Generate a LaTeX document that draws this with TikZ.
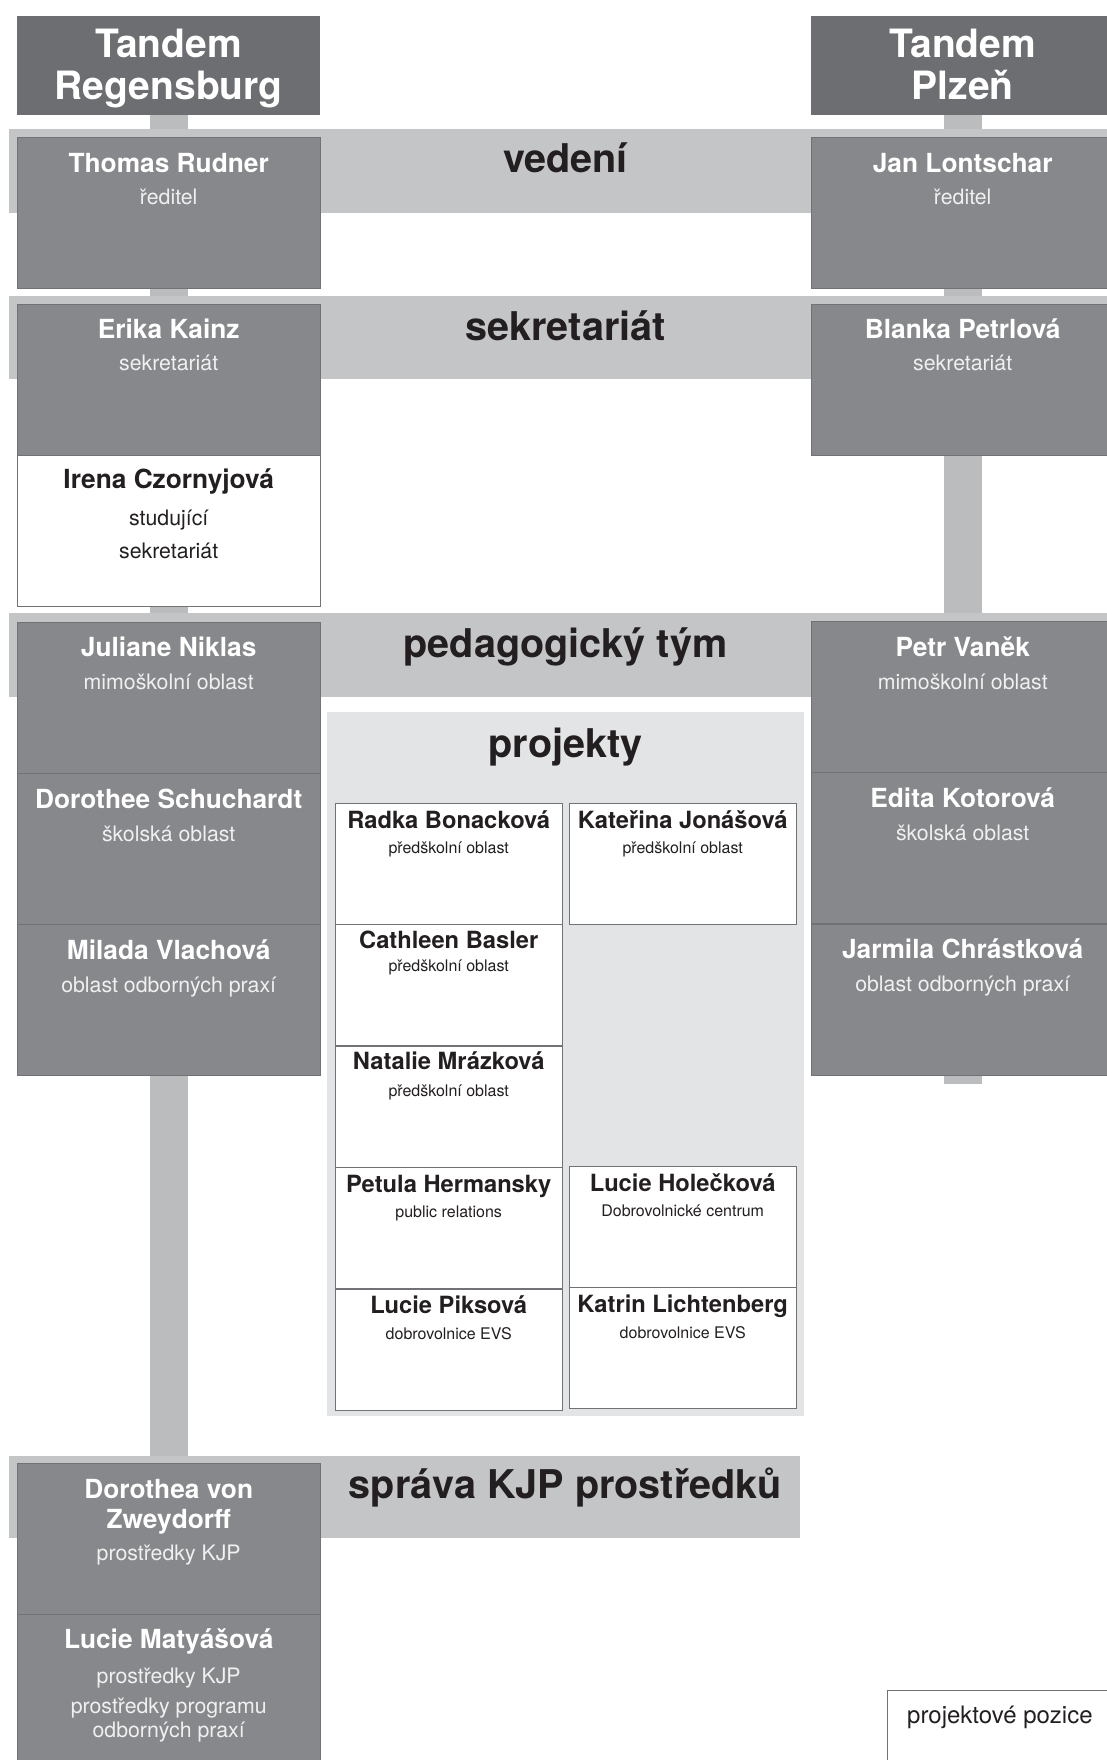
\documentclass[tikz,border=0pt]{standalone}
\usepackage{fontspec}
\setmainfont{TeX Gyre Heros}
\usepackage{tikz}
\usetikzlibrary{positioning,backgrounds}

\definecolor{hdrgray}{HTML}{6D6E71}
\definecolor{boxgray}{HTML}{87888B}
\definecolor{boxline}{HTML}{717275}
\definecolor{bandgray}{HTML}{C4C5C7}
\definecolor{stemgray}{HTML}{BBBCBE}
\definecolor{panelgray}{HTML}{E3E4E5}
\definecolor{inkdark}{HTML}{231F20}

\begin{document}
\begin{tikzpicture}[
    x=1pt, y=-1pt,
    header/.style={rectangle, fill=hdrgray, minimum width=303pt, minimum height=99pt, inner sep=0pt, anchor=north west},
    person/.style={rectangle, draw=boxline, fill=boxgray, minimum width=303pt, minimum height=151pt, inner sep=0pt, anchor=north west},
    trainee/.style={person, fill=white},
    project/.style={rectangle, draw=boxline, fill=white, minimum width=227pt, minimum height=121pt, inner sep=0pt, anchor=north west},
    band/.style={rectangle, fill=bandgray, inner sep=0pt, anchor=north west},
    hdrtext/.style={anchor=base, inner sep=0pt, text=white, font=\fontsize{39}{42}\selectfont\bfseries},
    nm/.style={anchor=base, inner sep=0pt, text=white, font=\fontsize{26.3}{30}\selectfont\bfseries},
    role/.style={anchor=base, inner sep=0pt, text=white!94!black, font=\fontsize{21.3}{25}\selectfont},
    darknm/.style={nm, text=inkdark},
    darkrole/.style={role, text=inkdark},
    pnm/.style={anchor=base, inner sep=0pt, text=inkdark, font=\fontsize{23.7}{27}\selectfont\bfseries},
    prole/.style={anchor=base, inner sep=0pt, text=inkdark, font=\fontsize{16}{19}\selectfont},
    title/.style={anchor=base, inner sep=0pt, text=inkdark, font=\fontsize{39.6}{44}\selectfont\bfseries},
    stem/.style={draw=stemgray, line width=38pt}
]
\useasboundingbox (0,0) rectangle (1106,1760);

% bands
\node[band, minimum width=1110pt, minimum height=84pt] (vedeni) at (9,129) {};
\node[band, minimum width=1110pt, minimum height=83pt] (sekretariat) at (9,296) {};
\node[band, minimum width=1110pt, minimum height=84pt] (pedagog) at (9,613) {};
\node[band, minimum width=791pt, minimum height=82pt] (sprava) at (9,1456) {};

\node[title] (vedenilbl) at (565.5,173) {vedení};
\node[title] (sekretariatlbl) at (565.5,340) {sekretariát};
\node[title] (pedagoglbl) at (565.5,657) {pedagogický tým};
\node[title] (spravalbl) at (565.5,1498) {správa KJP prostředků};

% Regensburg
\node[header, label={[hdrtext, yshift=-42pt]above:Tandem}, label={[hdrtext, yshift=-84pt]above:Regensburg}] (regensburg) at (17,16) {};
\node[person, below=22pt of regensburg, label={[nm, yshift=-35pt]above:Thomas Rudner}, label={[role, yshift=-67pt]above:ředitel}] (rudner) {};
\node[person, below=15pt of rudner, label={[nm, yshift=-35pt]above:Erika Kainz}, label={[role, yshift=-67pt]above:sekretariát}] (kainz) {};
\node[trainee, below=0pt of kainz, label={[darknm, yshift=-33pt]above:Irena Czornyjová}, label={[darkrole, yshift=-70pt]above:studující}, label={[darkrole, yshift=-103pt]above:sekretariát}] (czornyjova) {};
\node[person, below=15pt of czornyjova, label={[nm, yshift=-35pt]above:Juliane Niklas}, label={[role, yshift=-68pt]above:mimoškolní oblast}] (niklas) {};
\node[person, below=0pt of niklas, label={[nm, yshift=-35pt]above:Dorothee Schuchardt}, label={[role, yshift=-68pt]above:školská oblast}] (schuchardt) {};
\node[person, below=0pt of schuchardt, label={[nm, yshift=-35pt]above:Milada Vlachová}, label={[role, yshift=-68pt]above:oblast odborných praxí}] (vlachova) {};
\node[person, label={[nm, yshift=-35pt]above:Dorothea von}, label={[nm, yshift=-65pt]above:Zweydorff}, label={[role, yshift=-97pt]above:prostředky KJP}] (zweydorff) at (17,1463) {};
\node[person, below=0pt of zweydorff, label={[nm, yshift=-34pt]above:Lucie Matyášová}, label={[role, yshift=-69pt]above:prostředky KJP}, label={[role, yshift=-99pt]above:prostředky programu}, label={[role, yshift=-123pt]above:odborných praxí}] (matyasova) {};

% Plzen
\node[header, label={[hdrtext, yshift=-42pt]above:Tandem}, label={[hdrtext, yshift=-84pt]above:Plzeň}] (plzen) at (811,16) {};
\node[person, below=22pt of plzen, label={[nm, yshift=-35pt]above:Jan Lontschar}, label={[role, yshift=-67pt]above:ředitel}] (lontschar) {};
\node[person, below=15pt of lontschar, label={[nm, yshift=-35pt]above:Blanka Petrlová}, label={[role, yshift=-67pt]above:sekretariát}] (petrlova) {};
\node[person, label={[nm, yshift=-35pt]above:Petr Vaněk}, label={[role, yshift=-68pt]above:mimoškolní oblast}] (vanek) at (811,621) {};
\node[person, below=0pt of vanek, label={[nm, yshift=-35pt]above:Edita Kotorová}, label={[role, yshift=-68pt]above:školská oblast}] (kotorova) {};
\node[person, below=0pt of kotorova, label={[nm, yshift=-35pt]above:Jarmila Chrástková}, label={[role, yshift=-68pt]above:oblast odborných praxí}] (chrastkova) {};
\coordinate (plzenend) at ([yshift=-9pt]chrastkova.south);

% projekty
\node[rectangle, fill=panelgray, minimum width=477pt, minimum height=704pt, inner sep=0pt, anchor=north west] (projekty) at (327,712) {};
\node[title] (projektylbl) at (565.5,757) {projekty};

\node[project, label={[pnm, yshift=-25pt]above:Radka Bonacková}, label={[prole, yshift=-50pt]above:předškolní oblast}] (bonackova) at (335,803) {};
\node[project, below=0pt of bonackova, label={[pnm, yshift=-24pt]above:Cathleen Basler}, label={[prole, yshift=-47pt]above:předškolní oblast}] (basler) {};
\node[project, below=0pt of basler, label={[pnm, yshift=-24pt]above:Natalie Mrázková}, label={[prole, yshift=-51pt]above:předškolní oblast}] (mrazkova) {};
\node[project, below=0pt of mrazkova, label={[pnm, yshift=-25pt]above:Petula Hermansky}, label={[prole, yshift=-50pt]above:public relations}] (hermansky) {};
\node[project, below=0pt of hermansky, label={[pnm, yshift=-25pt]above:Lucie Piksová}, label={[prole, yshift=-51pt]above:dobrovolnice EVS}] (piksova) {};

\node[project, label={[pnm, yshift=-25pt]above:Kateřina Jonášová}, label={[prole, yshift=-50pt]above:předškolní oblast}] (jonasova) at (569,803) {};
\node[project, label={[pnm, yshift=-25pt]above:Lucie Holečková}, label={[prole, yshift=-50pt]above:Dobrovolnické centrum}] (holeckova) at (569,1166) {};
\node[project, below=0pt of holeckova, label={[pnm, yshift=-25pt]above:Katrin Lichtenberg}, label={[prole, yshift=-51pt]above:dobrovolnice EVS}] (lichtenberg) {};

% legend
\node[rectangle, draw=boxline, fill=white, minimum width=260pt, minimum height=100pt, inner sep=0pt, anchor=north west] (legend) at (887,1690) {};
\node[anchor=base west, inner sep=0pt, text=inkdark, font=\fontsize{24}{28}\selectfont] (legendlbl) at (907,1723) {projektové pozice};

% stems
\begin{scope}[on background layer]
\draw[stem] (regensburg.south) -- (zweydorff.north);
\draw[stem] (plzen.south) -- (plzenend);
\end{scope}

\end{tikzpicture}
\end{document}
